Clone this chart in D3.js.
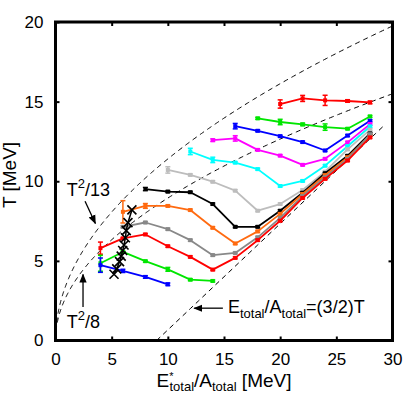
<!DOCTYPE html>
<html>
<head>
<meta charset="utf-8">
<script src="https://cdn.jsdelivr.net/npm/d3@7"></script>
<style>
  body { margin: 0; background: #fff; }
  text { font-family: "Liberation Sans", Arial, sans-serif; fill: #000; }
</style>
</head>
<body>
<div id="chart"></div>
<script>
// excitation energy per nucleon grid (MeV)
var energies = [4, 6, 8, 10, 12, 14, 16, 18, 20, 22, 24, 26, 28];

// temperature of each run on that grid, null = no point
var tRedHi    = [null, null, null, null, null, null, null, null, 14.85, 15.2, 15.08, 15.04, 14.95];
var tGreenHi  = [null, null, null, null, null, null, null, 13.95, 13.72, 13.57, 13.4, 13.3, 14.07];
var tBlueHi   = [null, null, null, null, null, null, 13.46, 13.17, 12.83, 12.46, 11.93, 12.87, 13.8];
var tMagenta  = [null, null, null, null, null, 12.58, 12.69, 11.97, 11.61, 11.03, 11.41, 12.44, 13.59];
var tCyan     = [null, null, null, null, 11.87, 11.34, 11.17, 10.76, 9.70, 10.02, 10.98, 12.2, 13.44];
var tSilver   = [null, null, null, 10.71, 10.40, 9.97, 9.41, 8.15, 8.57, 9.45, 10.6, 12.0, 13.23];
var tBlack    = [null, null, 9.51, 9.35, 9.31, 8.57, 7.14, 7.14, 8.15, 9.28, 10.5, 11.6, 13.0];
var tOrange   = [null, 8.08, 8.45, 8.45, 8.19, 7.08, 6.09, 6.85, 7.95, 9.2, 10.38, 11.5, 12.87];
var tGray     = [null, 7.14, 7.41, 6.99, 6.30, 5.36, 5.5, 6.48, 7.7, 9.07, 10.25, 11.4, 12.95];
var tRedLo    = [5.8, 6.41, 6.66, 5.92, 5.25, 4.45, 5.19, 6.3, 7.52, 8.95, 10.15, 11.3, 12.75];
var tGreenLo  = [4.85, 5.56, 4.98, 4.47, 3.82, 3.74, null, null, null, null, null, null, null];
var tBlueLo   = [4.73, 4.37, 3.99, 3.53, null, null, null, null, null, null, null, null, null];

// error bars (0 = none drawn)
var errRedHi   = [0, 0, 0, 0, 0, 0, 0, 0, 0.26, 0.19, 0.32, 0.08, 0.08];
var errGreenHi = [0, 0, 0, 0, 0, 0, 0, 0.06, 0.17, 0.08, 0.2, 0.06, 0.06];
var errBlueHi  = [0, 0, 0, 0, 0, 0, 0.17, 0.06, 0.06, 0.06, 0.06, 0.06, 0.06];
var errMagenta = [0, 0, 0, 0, 0, 0.08, 0.17, 0.06, 0.06, 0.06, 0.06, 0.06, 0.06];
var errCyan    = [0, 0, 0, 0, 0.2, 0.17, 0.06, 0.06, 0.06, 0.06, 0.06, 0.06, 0.06];
var errSilver  = [0, 0, 0, 0.2, 0.06, 0.06, 0.06, 0.06, 0.06, 0.06, 0.06, 0.06, 0.06];
var errBlack   = [0, 0, 0.1, 0.06, 0.06, 0.06, 0.06, 0.06, 0.06, 0.06, 0.06, 0.06, 0.06];
var errOrange  = [0, 0.7, 0.15, 0.06, 0.06, 0.06, 0.06, 0.06, 0.06, 0.06, 0.06, 0.06, 0.06];
var errGray    = [0, 0.06, 0.06, 0.06, 0.06, 0.06, 0.06, 0.06, 0.06, 0.06, 0.06, 0.06, 0.06];
var errRedLo   = [0.38, 0.06, 0.06, 0.06, 0.06, 0.06, 0.06, 0.06, 0.06, 0.06, 0.06, 0.06, 0.06];
var errGreenLo = [0.5, 0.06, 0.06, 0.12, 0.06, 0.06, 0, 0, 0, 0, 0, 0, 0];
var errBlueLo  = [0.45, 0.1, 0.08, 0.08, 0, 0, 0, 0, 0, 0, 0, 0, 0];

// crossed markers (caloric curve of the composite)
var crossE = [5.21, 5.45, 5.7, 5.85, 5.98, 6.1, 6.22, 6.3, 6.45, 6.8];
var crossT = [4.16, 4.5, 4.95, 5.3, 5.65, 6.0, 6.45, 6.9, 7.4, 8.2];

// reference curves: E/A = T^2/a and E/A = (3/2)T + offset
var levelDensity = [13, 8];
var gasOffset = 9.0;

var xTicks = [0, 5, 10, 15, 20, 25, 30];
var yTicks = [0, 5, 10, 15, 20];

var series = [tRedHi, tGreenHi, tBlueHi, tMagenta, tCyan, tSilver, tBlack, tOrange, tGray, tRedLo, tGreenLo, tBlueLo];
var errors = [errRedHi, errGreenHi, errBlueHi, errMagenta, errCyan, errSilver, errBlack, errOrange, errGray, errRedLo, errGreenLo, errBlueLo];
var colors = ['#ff0000', '#00e600', '#0000ff', '#ff00ff', '#00ffff', '#bdbdbd', '#000000', '#ff6a10', '#888888', '#ff0000', '#00e600', '#0000ff'];

// setup SVG
var svg = d3.select('#chart').append('svg')
    .attr('width', 415).attr('height', 396);

var x = d3.scaleLinear().domain([0, 30]).range([55.5, 392.5]);
var y = d3.scaleLinear().domain([0, 20]).range([340.5, 22]);

svg.append('defs').append('clipPath').attr('id', 'plot')
    .append('rect')
    .attr('x', x(0)).attr('y', y(20))
    .attr('width', x(30) - x(0)).attr('height', y(0) - y(20));

// dashed reference curves
var line = d3.line().x(function(d) { return x(d[0]); }).y(function(d) { return y(d[1]); });
var guides = svg.append('g').attr('clip-path', 'url(#plot)')
    .attr('fill', 'none').attr('stroke', '#000')
    .attr('stroke-width', 1).attr('stroke-dasharray', '5,4');

levelDensity.forEach(function(a) {
    var pts = d3.range(0, Math.sqrt(a * 31), 0.05).map(function(t) { return [t * t / a, t]; });
    guides.append('path').datum(pts).attr('d', line);
});
guides.append('path')
    .datum(d3.range(0, 14, 0.5).map(function(t) { return [1.5 * t + gasOffset, t]; }))
    .attr('d', line);

// data series
var runs = svg.append('g');
series.forEach(function(vals, k) {
    var pts = [];
    vals.forEach(function(t, i) {
        if (t != null) pts.push({ e: energies[i], t: t, err: errors[k][i] });
    });
    var g = runs.append('g');
    g.append('path').datum(pts)
        .attr('fill', 'none').attr('stroke', colors[k]).attr('stroke-width', 1.8)
        .attr('stroke-linejoin', 'round')
        .attr('d', d3.line().x(function(d) { return x(d.e); }).y(function(d) { return y(d.t); }));

    // error bars with caps
    var bars = g.selectAll('g.err').data(pts.filter(function(d) { return d.err > 0; }))
        .enter().append('g').attr('stroke', colors[k]).attr('stroke-width', 1.5);
    bars.append('line')
        .attr('x1', function(d) { return x(d.e); }).attr('x2', function(d) { return x(d.e); })
        .attr('y1', function(d) { return y(d.t - d.err); }).attr('y2', function(d) { return y(d.t + d.err); });
    [-1, 1].forEach(function(s) {
        bars.append('line')
            .attr('x1', function(d) { return x(d.e) - 2.5; }).attr('x2', function(d) { return x(d.e) + 2.5; })
            .attr('y1', function(d) { return y(d.t + s * d.err); }).attr('y2', function(d) { return y(d.t + s * d.err); });
    });

    g.selectAll('rect').data(pts).enter().append('rect')
        .attr('x', function(d) { return x(d.e) - 2; }).attr('y', function(d) { return y(d.t) - 2; })
        .attr('width', 4).attr('height', 4).attr('fill', colors[k]);
});

// crosses
var crosses = crossE.map(function(e, i) { return [e, crossT[i]]; });
svg.append('path').datum(crosses)
    .attr('fill', 'none').attr('stroke', '#000').attr('stroke-width', 1.5).attr('d', line);
svg.selectAll('path.cross').data(crosses).enter().append('path')
    .attr('class', 'cross')
    .attr('transform', function(d) { return 'translate(' + x(d[0]) + ',' + y(d[1]) + ')'; })
    .attr('d', 'M-4.5,-4.5L4.5,4.5M-4.5,4.5L4.5,-4.5')
    .attr('stroke', '#000').attr('stroke-width', 1.6);

// axes, ticks inward
function styleAxis(g) {
    g.select('.domain').remove();
    g.selectAll('.tick line').attr('stroke-width', 2);
    g.selectAll('text').attr('font-size', 17)
        .attr('font-family', '"Liberation Sans", Arial, sans-serif');
}
svg.append('g').attr('transform', 'translate(0,' + y(0) + ')')
    .call(d3.axisBottom(x).tickValues(xTicks).tickSize(-4).tickPadding(12)).call(styleAxis);
svg.append('g').attr('transform', 'translate(0,' + y(20) + ')')
    .call(d3.axisTop(x).tickValues(xTicks).tickSize(-4).tickFormat('')).call(styleAxis);
svg.append('g').attr('transform', 'translate(' + x(0) + ',0)')
    .call(d3.axisLeft(y).tickValues(yTicks).tickSize(-4).tickPadding(12)).call(styleAxis);
svg.append('g').attr('transform', 'translate(' + x(30) + ',0)')
    .call(d3.axisRight(y).tickValues(yTicks).tickSize(-4).tickFormat('')).call(styleAxis);

// frame
svg.append('rect')
    .attr('x', x(0)).attr('y', y(20))
    .attr('width', x(30) - x(0)).attr('height', y(0) - y(20))
    .attr('fill', 'none').attr('stroke', '#000').attr('stroke-width', 3);

// axis titles
svg.append('text')
    .attr('transform', 'translate(16,175) rotate(-90)')
    .attr('text-anchor', 'middle').attr('font-size', 19)
    .text('T [MeV]');

var xt = svg.append('text').attr('x', 224).attr('y', 387)
    .attr('text-anchor', 'middle').attr('font-size', 19);
xt.append('tspan').text('E');
xt.append('tspan').attr('font-size', 11).attr('dy', -7).text('*');
xt.append('tspan').attr('font-size', 13).attr('dx', -4).attr('dy', 11).text('total');
xt.append('tspan').attr('dy', -4).text('/A');
xt.append('tspan').attr('font-size', 13).attr('dy', 4).text('total');
xt.append('tspan').attr('dy', -4).text(' [MeV]');

// annotations
svg.append('defs').append('marker').attr('id', 'head')
    .attr('viewBox', '0 0 10 10').attr('refX', 9).attr('refY', 5)
    .attr('markerWidth', 7).attr('markerHeight', 7).attr('orient', 'auto')
    .append('path').attr('d', 'M0,1L10,5L0,9Z').attr('fill', '#000');

function arrow(e1, t1, e2, t2) {
    svg.append('line')
        .attr('x1', x(e1)).attr('y1', y(t1)).attr('x2', x(e2)).attr('y2', y(t2))
        .attr('stroke', '#000').attr('stroke-width', 1.3)
        .attr('marker-end', 'url(#head)');
}

function powerLabel(e, t, denom) {
    var txt = svg.append('text').attr('x', x(e)).attr('y', y(t)).attr('font-size', 18);
    txt.append('tspan').text('T');
    txt.append('tspan').attr('font-size', 13).attr('dy', -8).text('2');
    txt.append('tspan').attr('dy', 8).text('/' + denom);
}

powerLabel(1.0, 9.05, 13);
arrow(2.63, 8.75, 3.55, 7.35);
powerLabel(1.0, 0.78, 8);
arrow(2.45, 2.1, 2.45, 4.15);

arrow(14.9, 2.03, 12.35, 2.03);
var gl = svg.append('text').attr('x', x(15.35)).attr('y', y(1.72)).attr('font-size', 18);
gl.append('tspan').text('E');
gl.append('tspan').attr('font-size', 13).attr('dy', 5).text('total');
gl.append('tspan').attr('dy', -5).text('/A');
gl.append('tspan').attr('font-size', 13).attr('dy', 5).text('total');
gl.append('tspan').attr('dy', -5).text('=(3/2)T');
</script>
</body>
</html>
